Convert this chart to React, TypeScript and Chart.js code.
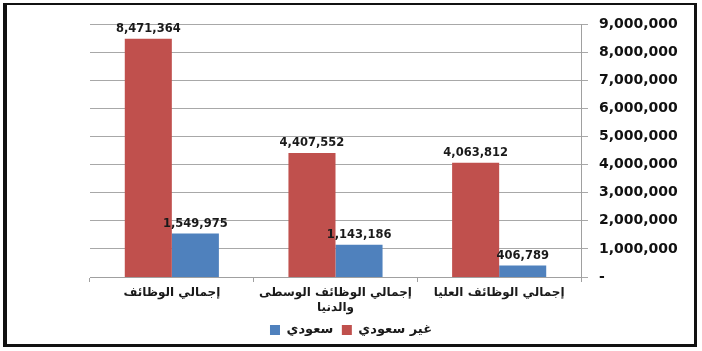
import React, { useEffect, useRef } from "react";
import { Chart, registerables } from "chart.js";

Chart.register(...registerables);

const categories: (string | string[])[] = [
  "إجمالي الوظائف",
  ["إجمالي الوظائف الوسطى", "والدنيا"],
  "إجمالي الوظائف العليا",
];
const nonSaudi = [8471364, 4407552, 4063812];
const saudi = [1549975, 1143186, 406789];
const seriesNames = ["غير سعودي", "سعودي"];
const yTicks = [0, 1000000, 2000000, 3000000, 4000000, 5000000, 6000000, 7000000, 8000000, 9000000];

const FONT = '"DejaVu Sans", sans-serif';

const valueLabels = {
  id: "valueLabels",
  afterDatasetsDraw(chart: any) {
    const ctx = chart.ctx;
    ctx.save();
    ctx.font = `bold 11.5px ${FONT}`;
    ctx.fillStyle = "#1a1a1a";
    ctx.textAlign = "center";
    ctx.textBaseline = "bottom";
    chart.data.datasets.forEach((ds: any, i: number) => {
      const meta = chart.getDatasetMeta(i);
      meta.data.forEach((bar: any, j: number) => {
        ctx.fillText(Number(ds.data[j]).toLocaleString("en-US"), bar.x, bar.y - 4);
      });
    });
    ctx.restore();
  },
};

export default function App() {
  const ref = useRef<HTMLCanvasElement | null>(null);

  useEffect(() => {
    if (!ref.current) return;
    const chart = new Chart(ref.current, {
      type: "bar",
      data: {
        labels: categories,
        datasets: [
          {
            label: seriesNames[0],
            data: nonSaudi,
            backgroundColor: "#C0504D",
            categoryPercentage: 0.575,
            barPercentage: 1,
          },
          {
            label: seriesNames[1],
            data: saudi,
            backgroundColor: "#4F81BD",
            categoryPercentage: 0.575,
            barPercentage: 1,
          },
        ],
      },
      options: {
        responsive: false,
        animation: false,
        devicePixelRatio: 1,
        layout: { padding: { top: 24, right: 0, bottom: 4.5, left: 0 } },
        font: { family: FONT },
        plugins: {
          tooltip: { enabled: false },
          legend: {
            position: "bottom",
            reverse: true,
            labels: {
              boxWidth: 10,
              boxHeight: 10,
              padding: 8.5,
              color: "#1a1a1a",
              font: { family: FONT, size: 13, weight: "bold" },
            },
          },
        },
        scales: {
          x: {
            grid: {
              offset: true,
              drawOnChartArea: false,
              drawTicks: true,
              tickLength: 5,
              color: "#a0a0a0",
            },
            border: { color: "#a0a0a0" },
            ticks: {
              color: "#1a1a1a",
              font: { family: FONT, size: 12, weight: "bold" },
              padding: 4,
              maxRotation: 0,
              autoSkip: false,
            },
            afterFit: (s: any) => {
              s.height = 38;
            },
          },
          yLeft: {
            position: "left",
            display: true,
            grid: { display: false },
            border: { display: false },
            ticks: { display: false },
            afterFit: (s: any) => {
              s.width = 90;
            },
          },
          y: {
            position: "right",
            min: 0,
            max: 9000000,
            afterBuildTicks: (s: any) => {
              s.ticks = yTicks.map((v) => ({ value: v }));
            },
            grid: { color: "#a8a8a8", tickLength: 7 },
            border: { color: "#a0a0a0" },
            ticks: {
              color: "#111",
              padding: 11,
              font: { family: FONT, size: 14, weight: "bold" },
              callback: (v: any) => (Number(v) === 0 ? "-" : Number(v).toLocaleString("en-US")),
            },
            afterFit: (s: any) => {
              s.width = 121;
            },
          },
        },
      },
      plugins: [valueLabels],
    } as any);
    return () => chart.destroy();
  }, []);

  return (
    <div style={{ position: "fixed", left: 0, top: 0, width: 702, height: 351, background: "#fff" }}>
      <canvas ref={ref} width={702} height={351} style={{ position: "absolute", left: 0, top: 0 }} />
      <div
        style={{
          position: "absolute",
          left: 3,
          top: 3,
          width: 694,
          height: 344,
          boxSizing: "border-box",
          borderTop: "2px solid #111",
          borderLeft: "4px solid #111",
          borderRight: "3px solid #111",
          borderBottom: "3px solid #111",
          pointerEvents: "none",
        }}
      />
    </div>
  );
}
